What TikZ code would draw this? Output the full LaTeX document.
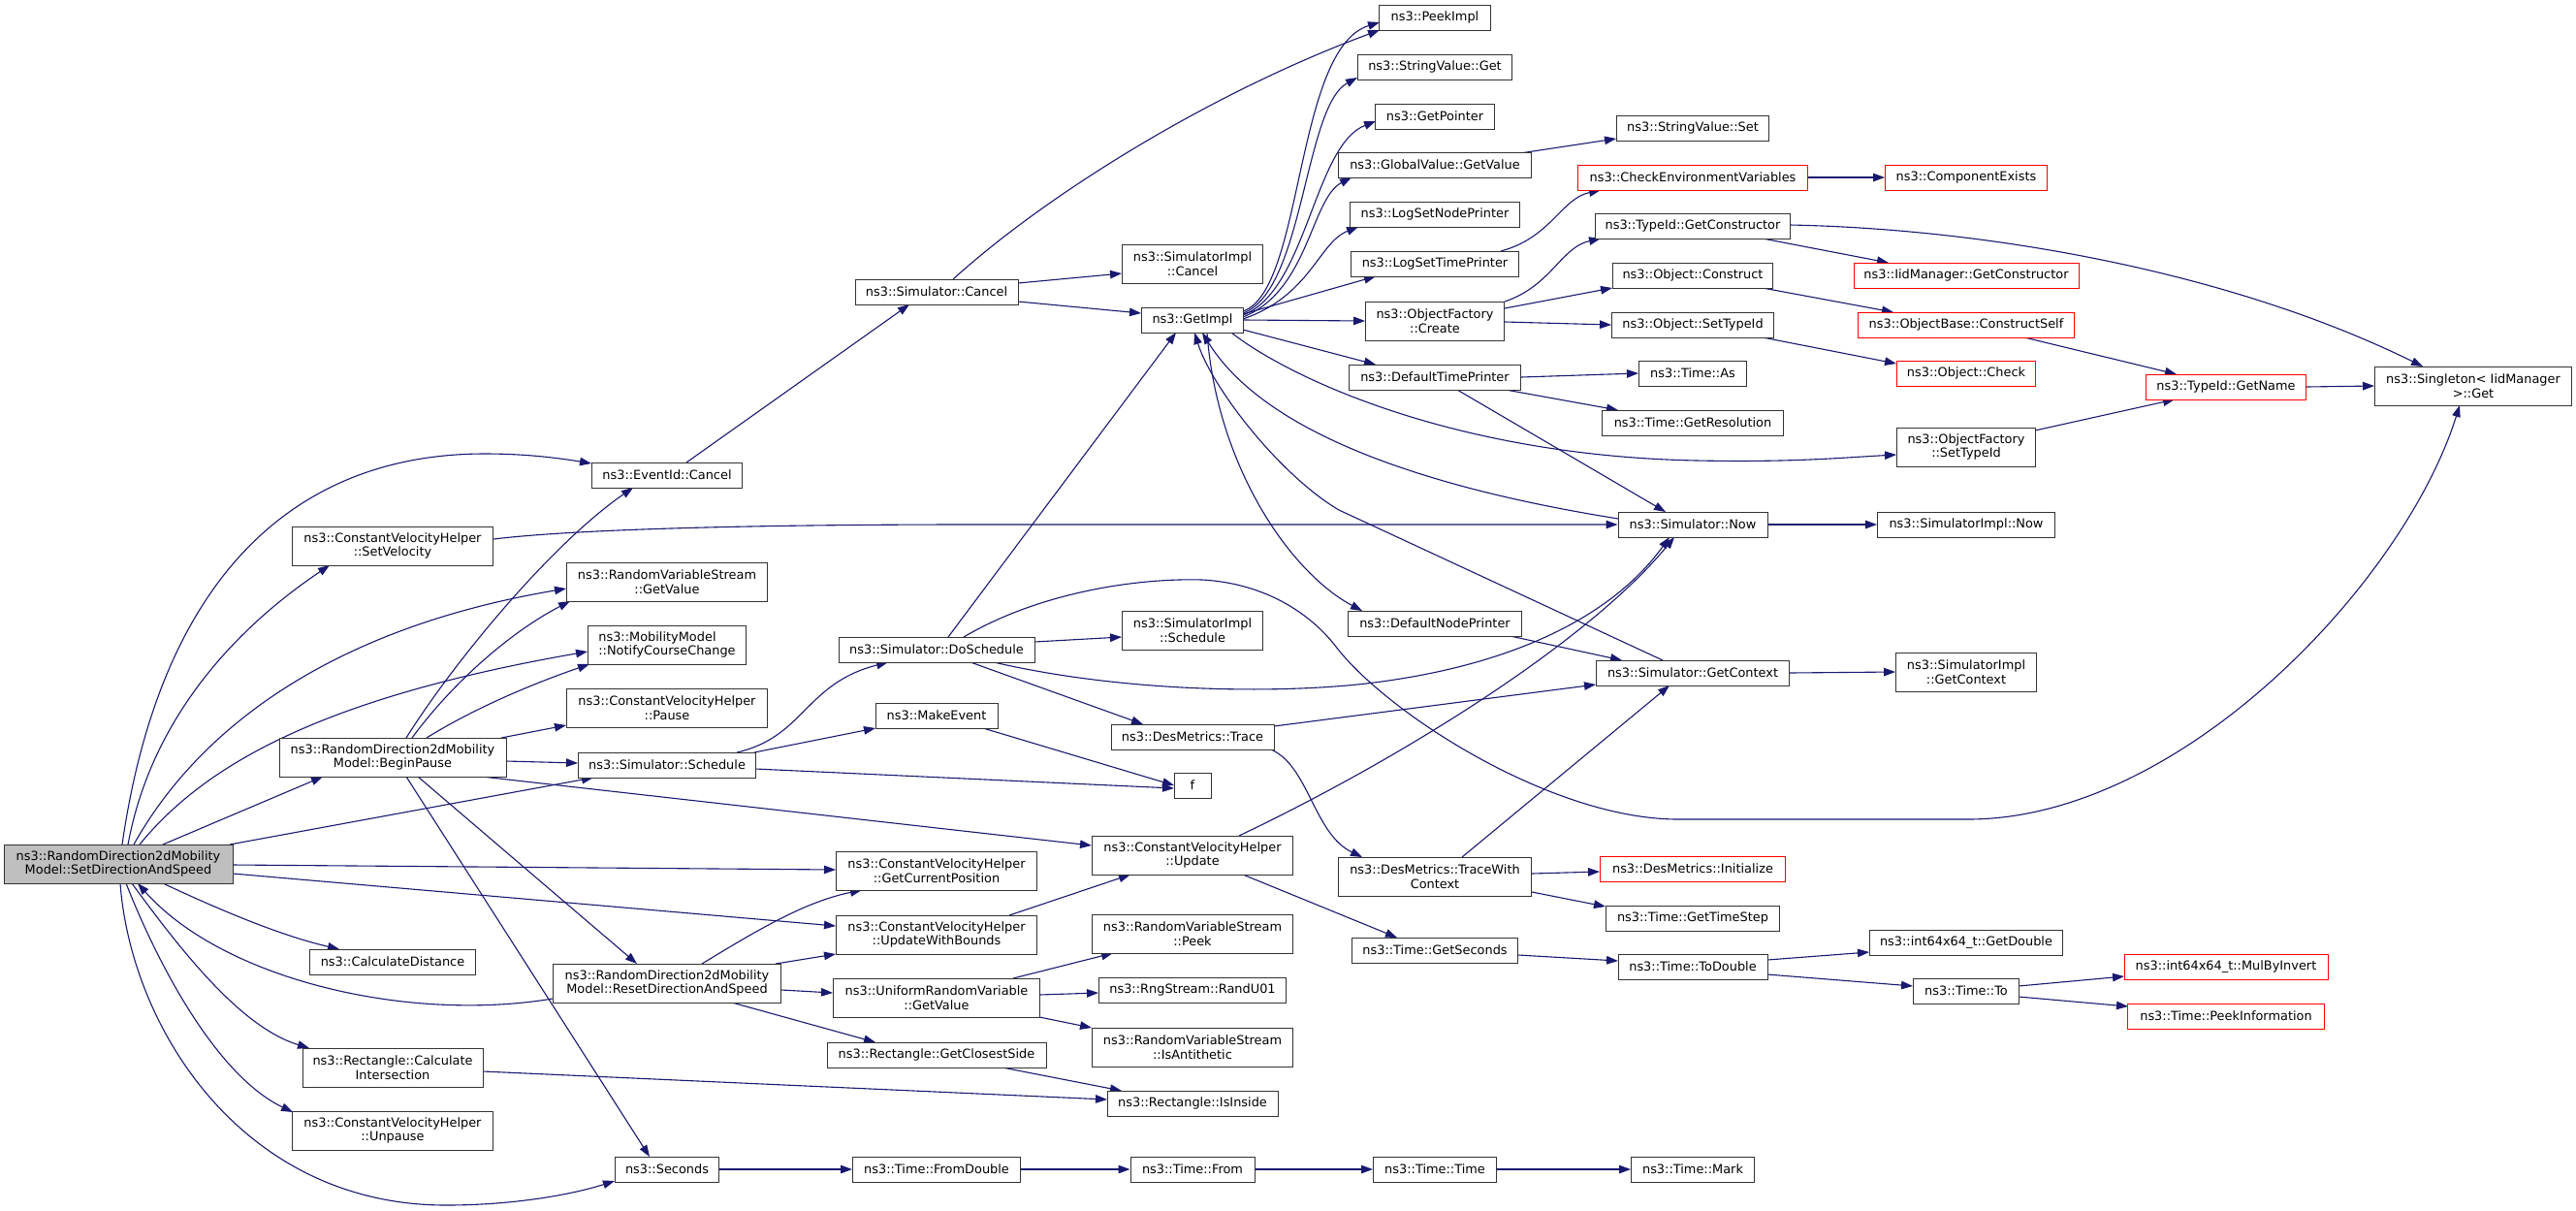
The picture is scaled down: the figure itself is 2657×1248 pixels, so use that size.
\documentclass[tikz,border=0pt]{standalone}
\usepackage{fontspec}
\setmainfont{DejaVu Sans}
\usetikzlibrary{arrows.meta,calc,backgrounds}
\definecolor{edgecol}{HTML}{191970}
\definecolor{rootfill}{HTML}{BFBFBF}
\definecolor{redbord}{HTML}{FF0000}
\definecolor{nodebord}{HTML}{333333}
\begin{document}
\begin{tikzpicture}[x=1pt,y=-1pt,
  fn/.style={draw=nodebord, line width=1pt, fill=white, rectangle, inner sep=0pt,
    minimum height=26pt, font=\fontsize{12.9}{14.5}\selectfont, align=center, text=black},
  fn2/.style={fn, minimum height=40pt},
  redn/.style={fn, draw=redbord},
  rootn/.style={fn2, fill=rootfill, draw=nodebord},
  call/.style={draw=edgecol, line width=1.1pt, -{Triangle[length=12pt,width=8.5pt]}},
]
\useasboundingbox (0,0) rectangle (2657,1248);

% ---------- column 0 ----------
\node[rootn, minimum width=236] (sds) at (122,891) {ns3::RandomDirection2dMobility\\Model::SetDirectionAndSpeed};
% ---------- column 1 ----------
\node[fn2, minimum width=207] (setvel) at (405,563) {ns3::ConstantVelocityHelper\\::SetVelocity};
\node[fn2, minimum width=234] (bp) at (405,781) {ns3::RandomDirection2dMobility\\Model::BeginPause};
\node[fn, minimum width=171] (calcdist) at (405,992) {ns3::CalculateDistance};
\node[fn2, minimum width=186] (calcint) at (405,1101) {ns3::Rectangle::Calculate\\Intersection};
\node[fn2, minimum width=207] (unpause) at (405,1166) {ns3::ConstantVelocityHelper\\::Unpause};
% ---------- column 2 ----------
\node[fn, minimum width=155] (ec) at (688,490) {ns3::EventId::Cancel};
\node[fn2, minimum width=207] (rvsget) at (688,600) {ns3::RandomVariableStream\\::GetValue};
\node[fn2, minimum width=163, align=left] (notify) at (688,665) {ns3::MobilityModel\\::NotifyCourseChange};
\node[fn2, minimum width=207] (pause) at (688,730) {ns3::ConstantVelocityHelper\\::Pause};
\node[fn, minimum width=183] (sched) at (688,789) {ns3::Simulator::Schedule};
\node[fn2, minimum width=235] (reset) at (688,1014) {ns3::RandomDirection2dMobility\\Model::ResetDirectionAndSpeed};
\node[fn, minimum width=107] (seconds) at (688,1206) {ns3::Seconds};
% ---------- column 3 ----------
\node[fn, minimum width=168] (simcancel) at (966,301) {ns3::Simulator::Cancel};
\node[fn, minimum width=202] (dosched) at (966,670) {ns3::Simulator::DoSchedule};
\node[fn, minimum width=126] (makeevent) at (966,738) {ns3::MakeEvent};
\node[fn2, minimum width=207] (gcp) at (966,898) {ns3::ConstantVelocityHelper\\::GetCurrentPosition};
\node[fn2, minimum width=207] (uwb) at (966,964) {ns3::ConstantVelocityHelper\\::UpdateWithBounds};
\node[fn2, minimum width=213] (urv) at (966,1029) {ns3::UniformRandomVariable\\::GetValue};
\node[fn, minimum width=226] (closest) at (966,1088) {ns3::Rectangle::GetClosestSide};
\node[fn, minimum width=173] (fromdouble) at (966,1206) {ns3::Time::FromDouble};
% ---------- column 4 ----------
\node[fn2, minimum width=145] (simimplcancel) at (1230,272) {ns3::SimulatorImpl\\::Cancel};
\node[fn, minimum width=105] (getimpl) at (1230,330) {ns3::GetImpl};
\node[fn2, minimum width=145] (simimplsched) at (1230,650) {ns3::SimulatorImpl\\::Schedule};
\node[fn, minimum width=168] (trace) at (1230,760) {ns3::DesMetrics::Trace};
\node[fn, minimum width=38] (fnode) at (1230,810) {f};
\node[fn2, minimum width=207] (update) at (1230,882) {ns3::ConstantVelocityHelper\\::Update};
\node[fn2, minimum width=207] (peek) at (1230,963) {ns3::RandomVariableStream\\::Peek};
\node[fn, minimum width=193] (randu) at (1230,1021) {ns3::RngStream::RandU01};
\node[fn2, minimum width=207] (antith) at (1230,1080) {ns3::RandomVariableStream\\::IsAntithetic};
\node[fn, minimum width=176] (isinside) at (1230,1138) {ns3::Rectangle::IsInside};
\node[fn, minimum width=128] (tfrom) at (1230,1206) {ns3::Time::From};
% ---------- column 5 ----------
\node[fn, minimum width=115] (peekimpl) at (1480,18) {ns3::PeekImpl};
\node[fn, minimum width=159] (svget) at (1480,69) {ns3::StringValue::Get};
\node[fn, minimum width=123] (getpointer) at (1480,120) {ns3::GetPointer};
\node[fn, minimum width=199] (gvget) at (1480,170) {ns3::GlobalValue::GetValue};
\node[fn, minimum width=175] (lognode) at (1480,221) {ns3::LogSetNodePrinter};
\node[fn, minimum width=173] (logtime) at (1480,272) {ns3::LogSetTimePrinter};
\node[fn2, minimum width=143] (ofcreate) at (1480,331) {ns3::ObjectFactory\\::Create};
\node[fn, minimum width=177] (dtp) at (1480,389) {ns3::DefaultTimePrinter};
\node[fn, minimum width=179] (dnp) at (1480,643) {ns3::DefaultNodePrinter};
\node[fn2, minimum width=199] (twc) at (1480,904) {ns3::DesMetrics::TraceWith\\Context};
\node[fn, minimum width=171] (getseconds) at (1480,980) {ns3::Time::GetSeconds};
\node[fn, minimum width=127] (timetime) at (1480,1206) {ns3::Time::Time};
% ---------- column 6 ----------
\node[fn, minimum width=157] (svset) at (1746,132) {ns3::StringValue::Set};
\node[redn, minimum width=237] (checkenv) at (1746,183) {ns3::CheckEnvironmentVariables};
\node[fn, minimum width=201] (tidgc) at (1746,233) {ns3::TypeId::GetConstructor};
\node[fn, minimum width=165] (objconstruct) at (1746,284) {ns3::Object::Construct};
\node[fn, minimum width=167] (objsettid) at (1746,335) {ns3::Object::SetTypeId};
\node[fn, minimum width=111] (timeas) at (1746,385) {ns3::Time::As};
\node[fn, minimum width=187] (getres) at (1746,436) {ns3::Time::GetResolution};
\node[fn, minimum width=154] (now) at (1746,541) {ns3::Simulator::Now};
\node[fn, minimum width=199] (getcontext) at (1746,694) {ns3::Simulator::GetContext};
\node[redn, minimum width=191] (init) at (1746,896) {ns3::DesMetrics::Initialize};
\node[fn, minimum width=179] (timestep) at (1746,947) {ns3::Time::GetTimeStep};
\node[fn, minimum width=154] (todouble) at (1746,997) {ns3::Time::ToDouble};
\node[fn, minimum width=127] (tmark) at (1746,1206) {ns3::Time::Mark};
% ---------- column 7 ----------
\node[redn, minimum width=167] (compexists) at (2028,183) {ns3::ComponentExists};
\node[redn, minimum width=232] (iidgc) at (2028,284) {ns3::IidManager::GetConstructor};
\node[redn, minimum width=223] (constructself) at (2028,335) {ns3::ObjectBase::ConstructSelf};
\node[redn, minimum width=143] (check) at (2028,385) {ns3::Object::Check};
\node[fn2, minimum width=143] (ofsettid) at (2028,461) {ns3::ObjectFactory\\::SetTypeId};
\node[fn, minimum width=183] (simimplnow) at (2028,541) {ns3::SimulatorImpl::Now};
\node[fn2, minimum width=145] (simimplgc) at (2028,693) {ns3::SimulatorImpl\\::GetContext};
\node[fn, minimum width=199] (getdouble) at (2028,972) {ns3::int64x64\_t::GetDouble};
\node[fn, minimum width=109] (timeto) at (2028,1022) {ns3::Time::To};
% ---------- column 8 ----------
\node[redn, minimum width=165] (getname) at (2296,399) {ns3::TypeId::GetName};
\node[redn, minimum width=210] (mulbyinv) at (2296,997) {ns3::int64x64\_t::MulByInvert};
\node[redn, minimum width=203] (peekinfo) at (2296,1048) {ns3::Time::PeekInformation};
% ---------- column 9 ----------
\node[fn2, minimum width=203] (singleton) at (2551,398) {ns3::Singleton< IidManager\\>::Get};

\begin{scope}[on background layer]
\fill[white] (0,0) rectangle (2657,1248);
% root edges
\draw[call] ($(sds)+(4,-20)$) .. controls (165,600) and (300,468) .. (500,468) .. controls (545,468) and (580,473) .. ($(ec)+(-78,-12)$);
\draw[call] ($(sds)+(10,-20)$) .. controls (160,720) and (270,630) .. ($(setvel)+(-65,20)$);
\draw[call] ($(sds)+(16,-20)$) .. controls (200,760) and (330,650) .. ($(rvsget)+(-104,7)$);
\draw[call] ($(sds)+(22,-20)$) .. controls (210,790) and (330,720) .. ($(notify)+(-82,7)$);
\draw[call] ($(sds)+(46,-20)$) -- ($(bp)+(-72,20)$);
\draw[call] ($(sds)+(115,-20)$) -- ($(sched)+(-76,13)$);
\draw[call] ($(sds)+(118,1)$) -- ($(gcp)+(-104,-1)$);
\draw[call] ($(sds)+(118,10)$) -- ($(uwb)+(-104,-9)$);
\draw[call] ($(sds)+(46,20)$) .. controls (230,940) and (290,965) .. ($(calcdist)+(-55,-13)$);
\draw[call] ($(sds)+(14,20)$) .. controls (190,985) and (250,1060) .. ($(calcint)+(-86,-20)$);
\draw[call] ($(sds)+(8,20)$) .. controls (165,1000) and (225,1110) .. ($(unpause)+(-103,-19)$);
\draw[call] ($(sds)+(2,20)$) .. controls (135,1060) and (250,1243) .. (460,1243) .. controls (530,1243) and (590,1232) .. ($(seconds)+(-54,12)$);
\draw[call] ($(reset)+(-118,16)$) .. controls (420,1055) and (230,1010) .. ($(sds)+(20,20)$);
% BeginPause edges
\draw[call] ($(bp)+(14,-20)$) .. controls (470,680) and (570,560) .. ($(ec)+(-35,13)$);
\draw[call] ($(bp)+(20,-20)$) .. controls (470,700) and (530,650) .. ($(rvsget)+(-100,20)$);
\draw[call] ($(bp)+(35,-20)$) .. controls (490,730) and (550,705) .. ($(notify)+(-80,20)$);
\draw[call] ($(bp)+(112,-20)$) -- ($(pause)+(-104,18)$);
\draw[call] ($(bp)+(117,4)$) -- ($(sched)+(-92,-2)$);
\draw[call] ($(bp)+(92,20)$) -- ($(update)+(-104,-10)$);
\draw[call] ($(bp)+(26,20)$) -- ($(reset)+(-31,-20)$);
\draw[call] ($(bp)+(14,20)$) -- ($(seconds)+(-18,-13)$);
% Reset edges
\draw[call] ($(reset)+(36,-20)$) .. controls (780,960) and (830,930) .. ($(gcp)+(-77,20)$);
\draw[call] ($(reset)+(112,-20)$) -- ($(uwb)+(-104,20)$);
\draw[call] ($(reset)+(118,7)$) -- ($(urv)+(-107,-5)$);
\draw[call] ($(reset)+(67,20)$) -- ($(closest)+(-63,-13)$);
% URV etc.
\draw[call] ($(urv)+(79,-20)$) -- ($(peek)+(-82,20)$);
\draw[call] ($(urv)+(106,-3)$) -- ($(randu)+(-97,3)$);
\draw[call] ($(urv)+(106,20)$) -- ($(antith)+(-104,-20)$);
\draw[call] ($(closest)+(68,13)$) -- ($(isinside)+(-73,-13)$);
\draw[call] ($(calcint)+(93,4)$) -- ($(isinside)+(-88,-4)$);
\draw[call] ($(uwb)+(75,-20)$) -- ($(update)+(-64,20)$);
% time chain
\draw[call] (seconds.east) -- (fromdouble.west);
\draw[call] (fromdouble.east) -- (tfrom.west);
\draw[call] (tfrom.east) -- (timetime.west);
\draw[call] (timetime.east) -- (tmark.west);
% Update
\draw[call] ($(update)+(48,-20)$) .. controls (1450,780) and (1640,660) .. ($(now)+(-19,13)$);
\draw[call] ($(update)+(52,20)$) -- ($(getseconds)+(-39,-13)$);
% DoSchedule
\draw[call] ($(dosched)+(12,-13)$) -- ($(getimpl)+(-17,13)$);
\draw[call] ($(dosched)+(101,-8)$) -- ($(simimplsched)+(-73,7)$);
\draw[call] ($(dosched)+(35,13)$) -- ($(trace)+(-51,-13)$);
\draw[call] ($(dosched)+(59,13)$) .. controls (1150,712) and (1300,716) .. (1400,706) .. controls (1550,690) and (1660,640) .. ($(now)+(-24,13)$);
\draw[call] ($(dosched)+(28,-13)$) .. controls (1070,612) and (1170,596) .. (1240,598) .. controls (1310,602) and (1355,637) .. (1378,667) .. controls (1430,735) and (1600,845) .. (1731,845) -- (2030,845) .. controls (2250,845) and (2480,600) .. ($(singleton)+(-14,20)$);
% Schedule
\draw[call] ($(sched)+(72,-13)$) .. controls (830,760) and (830,705) .. ($(dosched)+(-50,13)$);
\draw[call] ($(sched)+(90,-13)$) -- ($(makeevent)+(-63,13)$);
\draw[call] ($(sched)+(91,4)$) -- ($(fnode)+(-19,3)$);
\draw[call] ($(makeevent)+(48,13)$) -- ($(fnode)+(-19,0)$);
% Simulator::Cancel
\draw[call] ($(ec)+(20,-13)$) -- ($(simcancel)+(-28,13)$);
\draw[call] ($(simcancel)+(17,-13)$) .. controls (1080,200) and (1250,95) .. ($(peekimpl)+(-57,13)$);
\draw[call] ($(simcancel)+(84,-9)$) -- ($(simimplcancel)+(-73,10)$);
\draw[call] ($(simcancel)+(84,10)$) -- ($(getimpl)+(-53,-7)$);
% GetImpl
\draw[call] ($(getimpl)+(52,-9)$) .. controls (1345,300) and (1335,50) .. ($(peekimpl)+(-57,5)$);
\draw[call] ($(getimpl)+(52,-7)$) .. controls (1345,300) and (1345,110) .. ($(svget)+(-80,11)$);
\draw[call] ($(getimpl)+(52,-5)$) .. controls (1348,300) and (1355,150) .. ($(getpointer)+(-61,5)$);
\draw[call] ($(getimpl)+(52,-3)$) .. controls (1350,300) and (1352,205) .. ($(gvget)+(-86,13)$);
\draw[call] ($(getimpl)+(52,-1)$) .. controls (1352,305) and (1360,250) .. ($(lognode)+(-79,13)$);
\draw[call] ($(getimpl)+(52,-6)$) -- ($(logtime)+(-61,13)$);
\draw[call] (getimpl.east) -- (ofcreate.west);
\draw[call] ($(getimpl)+(52,10)$) -- ($(dtp)+(-61,-13)$);
\draw[call] ($(getimpl)+(15,13)$) .. controls (1255,480) and (1330,590) .. ($(dnp)+(-75,-13)$);
\draw[call] ($(getimpl)+(40,13)$) .. controls (1330,390) and (1500,470) .. (1750,475) .. controls (1850,477) and (1900,472) .. ($(ofsettid)+(-72,8)$);
\draw[call] ($(now)+(-77,-6)$) .. controls (1450,500) and (1300,440) .. ($(getimpl)+(10,13)$);
\draw[call] ($(getcontext)+(-31,-13)$) -- (1381,526) .. controls (1320,490) and (1250,400) .. ($(getimpl)+(2,13)$);
% printers
\draw[call] (dtp.east) -- (timeas.west);
\draw[call] ($(dtp)+(73,13)$) -- ($(getres)+(-77,-13)$);
\draw[call] ($(dtp)+(23,13)$) -- ($(now)+(-28,-13)$);
\draw[call] ($(dnp)+(73,12)$) -- ($(getcontext)+(-73,-13)$);
% DesMetrics
\draw[call] ($(trace)+(84,-11)$) -- ($(getcontext)+(-100,12)$);
\draw[call] ($(trace)+(81,13)$) .. controls (1350,790) and (1355,860) .. ($(twc)+(-75,-20)$);
\draw[call] ($(twc)+(28,-20)$) -- ($(getcontext)+(-24,13)$);
\draw[call] ($(twc)+(100,-3)$) -- ($(init)+(-96,3)$);
\draw[call] ($(twc)+(100,16)$) -- ($(timestep)+(-90,-12)$);
% time conversions
\draw[call] ($(getseconds)+(86,5)$) -- ($(todouble)+(-77,-6)$);
\draw[call] ($(todouble)+(77,-7)$) -- ($(getdouble)+(-100,10)$);
\draw[call] ($(todouble)+(77,8)$) -- ($(timeto)+(-55,-5)$);
\draw[call] ($(timeto)+(54,-5)$) -- ($(mulbyinv)+(-105,10)$);
\draw[call] ($(timeto)+(54,6)$) -- ($(peekinfo)+(-101,-10)$);
% simulator impl
\draw[call] (getcontext.east) -- (simimplgc.west);
\draw[call] (now.east) -- (simimplnow.west);
\draw[call] ($(setvel)+(104,-7)$) .. controls (600,545) and (800,541) .. (1000,541) -- (now.west);
% object system
\draw[call] ($(gvget)+(88,-12)$) -- ($(svset)+(-79,11)$);
\draw[call] ($(logtime)+(68,-13)$) .. controls (1600,245) and (1610,205) .. ($(checkenv)+(-95,13)$);
\draw[call] (checkenv.east) -- (compexists.west);
\draw[call] ($(ofcreate)+(72,-20)$) .. controls (1600,295) and (1610,255) .. ($(tidgc)+(-95,13)$);
\draw[call] ($(ofcreate)+(72,-13)$) -- ($(objconstruct)+(-83,13)$);
\draw[call] ($(ofcreate)+(72,1)$) -- (objsettid.west);
\draw[call] ($(tidgc)+(72,13)$) -- ($(iidgc)+(-80,-13)$);
\draw[call] ($(tidgc)+(100,-1)$) .. controls (2050,236) and (2300,280) .. ($(singleton)+(-52,-20)$);
\draw[call] ($(objconstruct)+(72,13)$) -- ($(constructself)+(-75,-13)$);
\draw[call] ($(objsettid)+(72,13)$) -- ($(check)+(-72,-10)$);
\draw[call] ($(constructself)+(60,13)$) -- ($(getname)+(-51,-13)$);
\draw[call] ($(ofsettid)+(71,-17)$) -- ($(getname)+(-53,13)$);
\draw[call] (getname.east) -- (singleton.west);
\end{scope}
\end{tikzpicture}
\end{document}
